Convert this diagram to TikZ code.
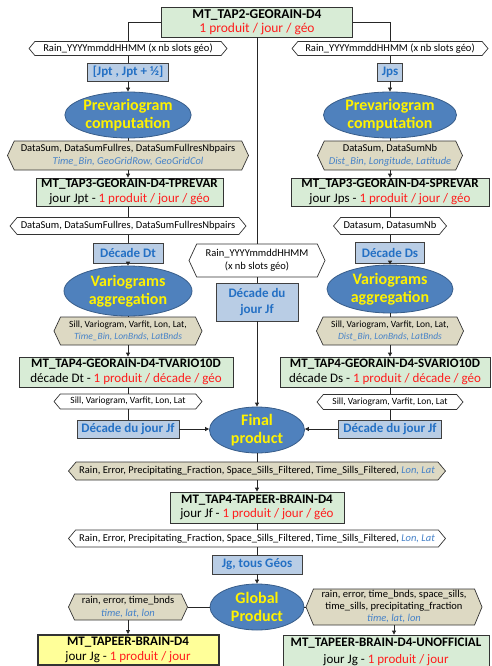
\documentclass[tikz,border=0pt]{standalone}
\usepackage{fontspec}
\setmainfont{Carlito}
\usetikzlibrary{shapes.symbols,shapes.geometric,arrows.meta}
\definecolor{gfill}{RGB}{216,236,214}
\definecolor{tanfill}{RGB}{221,217,195}
\definecolor{bfill}{RGB}{185,205,229}
\definecolor{btext}{RGB}{36,112,196}
\definecolor{efill}{RGB}{79,129,189}
\definecolor{edraw}{RGB}{56,93,138}
\definecolor{itblue}{RGB}{70,130,200}
\definecolor{redt}{RGB}{255,30,30}
\definecolor{yfill}{RGB}{255,255,153}
\tikzset{
  gbox/.style={rectangle, draw=black!80, fill=gfill, line width=0.8pt, align=center, inner sep=0pt, font=\fontsize{13}{14.5}\selectfont},
  ybox/.style={gbox, fill=yfill, line width=2pt},
  bbox/.style={rectangle, draw=black!75, fill=bfill, line width=0.8pt, text=btext, font=\bfseries\fontsize{13}{16}\selectfont, align=center, inner sep=0pt},
  ell/.style={ellipse, draw=edraw, fill=efill, line width=0.8pt, text=yellow, font=\bfseries\fontsize{16}{18}\selectfont, align=center, inner sep=0pt},
  hexw/.style={signal, signal to=east and west, signal pointer angle=100, draw=black!80, fill=white, line width=0.7pt, font=\fontsize{10.5}{13}\selectfont, align=center, inner sep=0pt},
  hexs/.style={hexw, font=\fontsize{9.5}{12}\selectfont},
  hext/.style={hexw, fill=tanfill, signal pointer angle=130},
  conn/.style={draw=black!85, line width=0.8pt},
  arr/.style={conn, -{Triangle[length=4pt,width=4pt]}},
}
\newcommand{\itb}[1]{\textcolor{itblue}{\itshape #1}}
\newcommand{\red}[1]{\textcolor{redt}{#1}}
\newcommand{\ttl}[1]{{\bfseries\fontsize{13}{14.5}\selectfont #1}}
\begin{document}
\begin{tikzpicture}[x=1pt,y=-1pt]
\useasboundingbox (0,0) rectangle (491,666);
% top
\node[gbox, minimum width=191pt, minimum height=30pt, font=\fontsize{13.5}{14.5}\selectfont] (top) at (257,22) {{\bfseries\fontsize{13.5}{14.5}\selectfont MT\_TAP2-GEORAIN-D4}\\\red{1 produit / jour / géo}};
% left column
\node[hexw, minimum width=198pt, minimum height=14pt] (hL1) at (128,48.5) {Rain\_YYYYmmddHHMM (x nb slots géo)};
\node[bbox, minimum width=81pt, minimum height=18pt] (bL1) at (128,72) {[Jpt , Jpt + ½]};
\node[ell, minimum width=125pt, minimum height=46pt] (eL1) at (128,115) {Prevariogram\\computation};
\node[hext, minimum width=241pt, minimum height=29pt] (tL1) at (128,155.5) {DataSum, DataSumFullres, DataSumFullresNbpairs\\\itb{Time\_Bin, GeoGridRow, GeoGridCol}};
\node[gbox, minimum width=187pt, minimum height=28pt] (gL1) at (129.5,192) {\ttl{MT\_TAP3-GEORAIN-D4-TPREVAR}\\jour Jpt - \red{1 produit / jour / géo}};
\node[hexw, minimum width=236pt, minimum height=17pt] (hL2) at (128,226) {DataSum, DataSumFullres, DataSumFullresNbpairs};
\node[bbox, minimum width=70pt, minimum height=20pt] (bL2) at (128,253) {Décade Dt};
\node[ell, minimum width=128pt, minimum height=50pt] (eL2) at (128,291) {Variograms\\aggregation};
\node[hext, hexs, fill=tanfill, signal pointer angle=130, minimum width=148pt, minimum height=28pt] (tL2) at (128,331) {Sill, Variogram, Varfit, Lon, Lat,\\\itb{Time\_Bin, LonBnds, LatBnds}};
\node[gbox, minimum width=214pt, minimum height=30pt] (gL2) at (126,372) {\ttl{MT\_TAP4-GEORAIN-D4-TVARIO10D}\\décade Dt - \red{1 produit / décade / géo}};
\node[hexs, minimum width=148pt, minimum height=15pt] (hL3) at (128,401.5) {Sill, Variogram, Varfit, Lon, Lat};
\node[bbox, minimum width=102pt, minimum height=18pt] (bL3) at (128,429) {Décade du jour Jf};
% right column
\node[hexw, minimum width=196pt, minimum height=14pt] (hR1) at (390,48.5) {Rain\_YYYYmmddHHMM (x nb slots géo)};
\node[bbox, minimum width=25pt, minimum height=18pt] (bR1) at (390,72) {Jps};
\node[ell, minimum width=133pt, minimum height=46pt] (eR1) at (390,115) {Prevariogram\\computation};
\node[hext, minimum width=145pt, minimum height=29pt] (tR1) at (390,155.5) {DataSum, DataSumNb\\\itb{Dist\_Bin, Longitude, Latitude}};
\node[gbox, minimum width=198pt, minimum height=28pt] (gR1) at (390,192) {\ttl{MT\_TAP3-GEORAIN-D4-SPREVAR}\\jour Jps - \red{1 produit / jour / géo}};
\node[hexw, minimum width=113pt, minimum height=17pt] (hR2) at (390,226) {Datasum, DatasumNb};
\node[bbox, minimum width=69pt, minimum height=21pt] (bR2) at (390,252.5) {Décade Ds};
\node[ell, minimum width=126pt, minimum height=48pt] (eR2) at (390,289) {Variograms\\aggregation};
\node[hext, hexs, fill=tanfill, signal pointer angle=130, minimum width=147pt, minimum height=28pt] (tR2) at (390,331) {Sill, Variogram, Varfit, Lon, Lat,\\\itb{Dist\_Bin, LonBnds, LatBnds}};
\node[gbox, minimum width=210pt, minimum height=30pt] (gR2) at (385,372) {\ttl{MT\_TAP4-GEORAIN-D4-SVARIO10D}\\décade Ds - \red{1 produit / décade / géo}};
\node[hexs, minimum width=146pt, minimum height=15pt] (hR3) at (390,402) {Sill, Variogram, Varfit, Lon, Lat};
\node[bbox, minimum width=103pt, minimum height=18pt] (bR3) at (390,429) {Décade du jour Jf};
% centre column
\node[hexw, minimum width=136pt, minimum height=33pt, signal pointer angle=130] (hC) at (257,260.5) {Rain\_YYYYmmddHHMM\\(x nb slots géo)};
\node[bbox, minimum width=82pt, minimum height=38pt] (bC) at (257,302) {Décade du\\jour Jf};
\node[ell, minimum width=95pt, minimum height=46pt] (eC) at (257,430) {Final\\product};
\node[hext, minimum width=377pt, minimum height=18pt, signal pointer angle=100] (tC) at (257,471) {Rain, Error, Precipitating\_Fraction, Space\_Sills\_Filtered, Time\_Sills\_Filtered, \itb{Lon, Lat}};
\node[gbox, minimum width=174pt, minimum height=31pt] (gC) at (257,507.5) {\ttl{MT\_TAP4-TAPEER-BRAIN-D4}\\jour Jf - \red{1 produit / jour / géo}};
\node[hexw, minimum width=377pt, minimum height=17pt] (hC2) at (257,538.5) {Rain, Error, Precipitating\_Fraction, Space\_Sills\_Filtered, Time\_Sills\_Filtered, \itb{Lon, Lat}};
\node[bbox, minimum width=90pt, minimum height=19pt] (bJ) at (257,564.5) {Jg, tous Géos};
\node[ell, minimum width=94pt, minimum height=46pt] (eG) at (257,607) {Global\\Product};
\node[hext, minimum width=119pt, minimum height=26pt] (tG1) at (128,607) {rain, error, time\_bnds\\\itb{time, lat, lon}};
\node[hext, minimum width=176pt, minimum height=36pt, signal pointer angle=135, font=\fontsize{10.5}{12}\selectfont] (tG2) at (394,607) {rain, error, time\_bnds, space\_sills,\\time\_sills, precipitating\_fraction\\\itb{time, lat, lon}};
\node[ybox, minimum width=181pt, minimum height=30pt] (yB) at (128,650) {\ttl{MT\_TAPEER-BRAIN-D4}\\jour Jg - \red{1 produit / jour}};
\node[gbox, minimum width=206pt, minimum height=33pt, font=\fontsize{13}{17}\selectfont] (gU) at (386,651.5) {\ttl{MT\_TAPEER-BRAIN-D4-UNOFFICIAL}\\jour Jg - \red{1 produit / jour}};
% connectors top
\draw[conn] (top.west) -| (hL1.north);
\draw[conn] (top.east) -| (hR1.north);
\draw[conn] (top.south) -- (hC.north);
% left
\draw[conn] (hL1.south) -- (bL1.north);
\draw[arr] (bL1.south) -- (eL1.north);
\draw[conn] (eL1.south) -- (tL1.north);
\draw[arr] (tL1.south) -- (tL1.south |- gL1.north);
\draw[conn] (hL2.north |- gL1.south) -- (hL2.north);
\draw[conn] (hL2.south) -- (bL2.north);
\draw[arr] (bL2.south) -- (eL2.north);
\draw[conn] (eL2.south) -- (tL2.north);
\draw[arr] (tL2.south) -- (tL2.south |- gL2.north);
\draw[conn] (hL3.north |- gL2.south) -- (hL3.north);
\draw[conn] (hL3.south) -- (bL3.north);
\draw[arr] (bL3.east) -- (bL3.east -| eC.west);
% right
\draw[conn] (hR1.south) -- (bR1.north);
\draw[arr] (bR1.south) -- (eR1.north);
\draw[conn] (eR1.south) -- (tR1.north);
\draw[arr] (tR1.south) -- (tR1.south |- gR1.north);
\draw[conn] (hR2.north |- gR1.south) -- (hR2.north);
\draw[conn] (hR2.south) -- (bR2.north);
\draw[arr] (bR2.south) -- (eR2.north);
\draw[conn] (eR2.south) -- (tR2.north);
\draw[arr] (tR2.south) -- (tR2.south |- gR2.north);
\draw[conn] (hR3.north |- gR2.south) -- (hR3.north);
\draw[conn] (hR3.south) -- (bR3.north);
\draw[arr] (bR3.west) -- (bR3.west -| eC.east);
% centre
\draw[conn] (hC.south) -- (bC.north);
\draw[arr] (bC.south) -- (eC.north);
\draw[conn] (eC.south) -- (tC.north);
\draw[arr] (tC.south) -- (gC.north);
\draw[conn] (gC.south) -- (hC2.north);
\draw[conn] (hC2.south) -- (bJ.north);
\draw[arr] (bJ.south) -- (eG.north);
\draw[conn] (eG.west) -- (tG1.east);
\draw[conn] (eG.east) -- (tG2.west);
\draw[arr] (tG1.south) -- (yB.north);
\draw[arr] (tG2.south) -- (tG2.south |- gU.north);
\end{tikzpicture}
\end{document}
